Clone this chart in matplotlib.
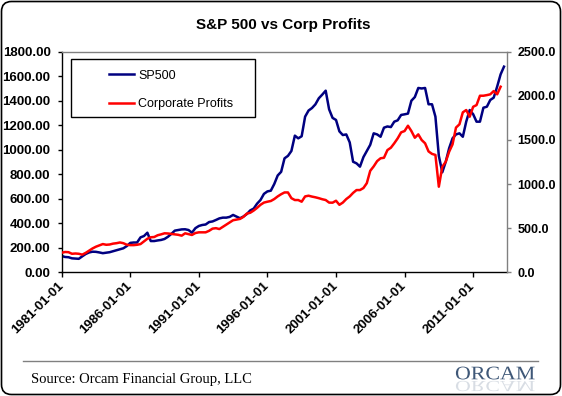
import numpy as np
import pandas as pd
import matplotlib
matplotlib.use('Agg')
import matplotlib.pyplot as plt
from matplotlib.patches import FancyBboxPatch, Rectangle, PathPatch
from matplotlib.textpath import TextPath
from matplotlib.font_manager import FontProperties
from matplotlib.transforms import Affine2D, IdentityTransform
from matplotlib.ticker import FormatStrFormatter
from matplotlib.lines import Line2D

# quarterly values, starting 1981-01-01
sp500 = [133, 125, 123, 114, 112, 110, 130, 149, 162, 168,
         167, 162, 156, 160, 164, 172, 180, 187, 196, 214,
         240, 243, 243, 285, 296, 323, 255, 255, 260, 264,
         272, 290, 314, 340, 345, 350, 351, 345, 323, 360,
         378, 386, 390, 410, 415, 427, 440, 446, 446, 452,
         468, 454, 441, 455, 475, 505, 520, 560, 590, 640,
         660, 666, 720, 790, 820, 930, 950, 990, 1115, 1093,
         1110, 1270, 1320, 1340, 1370, 1420, 1450, 1482, 1330, 1260,
         1243, 1150, 1120, 1125, 1060, 902, 889, 862, 940, 990,
         1040, 1134, 1125, 1106, 1180, 1190, 1185, 1229, 1240, 1284,
         1289, 1295, 1400, 1430, 1504, 1500, 1504, 1371, 1371, 1270,
         950, 816, 902, 1012, 1093, 1125, 1134, 1106, 1230, 1324,
         1290, 1229, 1229, 1343, 1351, 1406, 1425, 1515, 1615, 1678]

profits = [222, 230, 228, 210, 213, 210, 200, 220, 245, 270,
           290, 305, 320, 312, 315, 325, 330, 338, 330, 312,
           308, 308, 312, 320, 350, 380, 397, 400, 420, 430,
           442, 440, 435, 430, 425, 415, 442, 432, 423, 445,
           453, 453, 453, 470, 495, 500, 490, 515, 540, 565,
           590, 597, 605, 628, 665, 675, 700, 730, 765, 790,
           800, 808, 830, 860, 885, 905, 905, 840, 819, 819,
           800, 860, 868, 858, 850, 840, 828, 819, 790, 789,
           811, 765, 790, 830, 860, 900, 932, 932, 955, 1010,
           1150, 1200, 1260, 1292, 1298, 1385, 1412, 1462, 1518, 1586,
           1601, 1661, 1601, 1525, 1563, 1499, 1462, 1370, 1342, 1330,
           970, 1196, 1253, 1366, 1450, 1640, 1677, 1813, 1839, 1763,
           1876, 1895, 2001, 2001, 2008, 2017, 2054, 2017, 2103]

tick_labels = ['1981-01-01', '1986-01-01', '1991-01-01', '1996-01-01',
               '2001-01-01', '2006-01-01', '2011-01-01']
left_ticks = [0, 200, 400, 600, 800, 1000, 1200, 1400, 1600, 1800]
right_ticks = [0, 500, 1000, 1500, 2000, 2500]

dates = pd.date_range('1981-01-01', periods=len(sp500), freq='QS')
profit_dates = dates[:len(profits)]

W, H = 562, 396
fig = plt.figure(figsize=(W / 100, H / 100), dpi=100)
fig.patch.set_facecolor('white')

# plot area in pixels
px_l, px_r, px_t, px_b = 61.7, 506.5, 51.7, 272.3
ax = fig.add_axes([px_l / W, 1 - px_b / H, (px_r - px_l) / W, (px_b - px_t) / H])
ax2 = ax.twinx()

ax.plot(dates, sp500, color='#000080', lw=1.8, label='SP500')
ax2.plot(profit_dates, profits, color='#ff0000', lw=1.8, label='Corporate Profits')

ax.set_xlim(pd.Timestamp('1981-01-01'), pd.Timestamp('2013-06-07'))
ax.set_ylim(0, 1800)
ax2.set_ylim(0, 2500)

ax.set_xticks(pd.to_datetime(tick_labels))
ax.set_xticklabels(tick_labels, rotation=45, ha='right', va='center',
                   rotation_mode='anchor',
                   fontsize=9.5, fontweight='bold', family='Liberation Sans')

ax.set_yticks(left_ticks)
ax.yaxis.set_major_formatter(FormatStrFormatter('%.2f'))
ax2.set_yticks(right_ticks)
ax2.yaxis.set_major_formatter(FormatStrFormatter('%.1f'))

for lab in ax.get_yticklabels():
    lab.set_fontweight('bold')
    lab.set_fontsize(9.5)
    lab.set_family('Liberation Sans')
for lab in ax2.get_yticklabels():
    lab.set_fontweight('bold')
    lab.set_fontsize(9)
    lab.set_family('Liberation Sans')

ax.tick_params(axis='y', direction='out', length=3, width=1, color='black', pad=5)
ax.tick_params(axis='x', direction='out', length=3.5, width=1, color='black', pad=5)
ax2.tick_params(axis='y', direction='out', length=3, width=1, color='#808080', pad=5)

ax.spines['left'].set_color('black')
ax.spines['bottom'].set_color('black')
ax.spines['top'].set_color('#808080')
ax.spines['right'].set_visible(False)
for s in ['left', 'bottom', 'top']:
    ax2.spines[s].set_visible(False)
ax2.spines['right'].set_color('#808080')
for sp in list(ax.spines.values()) + list(ax2.spines.values()):
    sp.set_linewidth(1)

# legend box and entries
ax.add_patch(Rectangle((0.0202, 0.7026), 0.4143, 0.2643, transform=ax.transAxes,
                       fill=False, edgecolor='black', lw=1, zorder=5))
h1 = Line2D([], [], color='#000080', lw=1.8)
h2 = Line2D([], [], color='#ff0000', lw=1.8)
leg = ax.legend([h1, h2], ['SP500', 'Corporate Profits'], loc='center left',
                bbox_to_anchor=(0.0913, 0.8273), frameon=False, borderpad=0,
                handlelength=2.0, handletextpad=0.35, labelspacing=1.3,
                prop=FontProperties(family='Liberation Sans', size=9))
leg.set_zorder(6)

# title
fig.text(283 / W, 1 - 24.7 / H, 'S&P 500 vs Corp Profits', ha='center', va='center',
         fontsize=11, fontweight='bold', family='Liberation Sans')

# footer
fig.add_artist(Line2D([22.6 / W, 538 / W], [1 - 360.7 / H, 1 - 360.7 / H],
                      transform=fig.transFigure, color='#808080', lw=1))
fig.text(31.2 / W, 1 - 383.3 / H, 'Source: Orcam Financial Group, LLC', ha='left',
         va='baseline', fontsize=10.5, family='Liberation Serif')

# ORCAM logo with faded reflection
fp = FontProperties(family='Liberation Serif')
tp = TextPath((0, 0), 'ORCAM', size=19.2, prop=fp)
logo = PathPatch(tp, transform=Affine2D().scale(1.14, 1).translate(455, H - 379.3),
                 facecolor='#3f5878', edgecolor='none')
refl = PathPatch(tp, transform=Affine2D().scale(1.14, -0.8).translate(455, H - 381),
                 facecolor='#3f5878', edgecolor='none', alpha=0.2)
fig.add_artist(logo)
fig.add_artist(refl)

# rounded outer border
fig.add_artist(FancyBboxPatch((1.5, 1.5), W - 3, H - 3,
                              boxstyle='round,pad=0,rounding_size=10',
                              transform=IdentityTransform(), fill=False,
                              edgecolor='black', lw=1.2))

fig.savefig('out.png', dpi=100, facecolor='white')
